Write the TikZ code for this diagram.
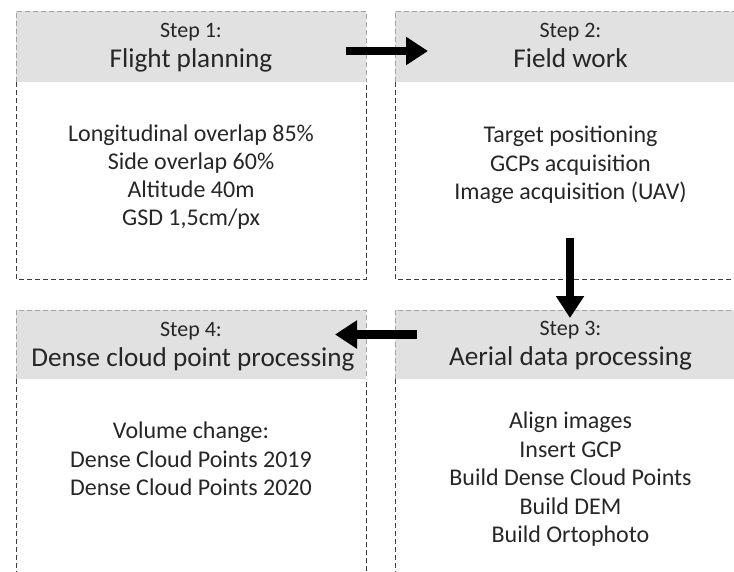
\documentclass[tikz,border=0pt]{standalone}
\usepackage{fontspec}
\setmainfont{Carlito}
\usetikzlibrary{arrows.meta}
\definecolor{hdr}{RGB}{225,225,225}
\definecolor{txt}{RGB}{38,38,38}
\definecolor{bd}{RGB}{60,60,60}
\definecolor{bdl}{RGB}{165,165,165}
\begin{document}
\begin{tikzpicture}[x=1pt,y=-1pt,
  dashline/.style={draw=bd,line width=0.9pt,dash pattern=on 5pt off 3pt},
  dashlight/.style={draw=bdl,line width=0.9pt,dash pattern=on 5pt off 3pt},
  steplbl/.style={font=\fontsize{22}{24}\selectfont,text=txt,anchor=base,inner sep=0pt},
  titlelbl/.style={font=\fontsize{27.2}{30}\selectfont,text=txt,anchor=base,inner sep=0pt},
  bodylbl/.style={font=\fontsize{24}{28}\selectfont,text=txt,anchor=base,inner sep=0pt},
  bigarrow/.style={line width=8.5pt,-{Triangle[width=27pt,length=22pt]},black}
]
\useasboundingbox (0,0) rectangle (734,571);
\clip (0,0) rectangle (734,571);

% box corners (named coordinates)
\coordinate (b1tl) at (16,11);   \coordinate (b1hr) at (366,82);  \coordinate (b1br) at (366,279);
\coordinate (b2tl) at (395,11);  \coordinate (b2hr) at (746,82);  \coordinate (b2br) at (746,279);
\coordinate (b4tl) at (16,310);  \coordinate (b4hr) at (366,379); \coordinate (b4br) at (366,600);
\coordinate (b3tl) at (395,310); \coordinate (b3hr) at (746,379); \coordinate (b3br) at (746,600);

\foreach \b in {b1,b2,b3,b4}{
  \fill[hdr] (\b tl) rectangle (\b hr);
  \draw[dashlight] (\b tl |- \b hr) -- (\b tl) -- (\b tl -| \b hr) -- (\b hr);
  \draw[dashline] (\b tl |- \b hr) -- (\b tl |- \b br) -- (\b br) -- (\b hr);
}

% Step 1
\node[steplbl] (s1) at (191,37.3) {Step 1:};
\node[titlelbl] (t1) at (191,67.5) {Flight planning};
\node[bodylbl] (l11) at (191,141) {Longitudinal overlap 85\%};
\node[bodylbl] (l12) at (191,169.2) {Side overlap 60\%};
\node[bodylbl] (l13) at (191,197.4) {Altitude 40m};
\node[bodylbl] (l14) at (191,225.6) {GSD 1,5cm/px};

% Step 2
\node[steplbl] (s2) at (570.5,37.3) {Step 2:};
\node[titlelbl] (t2) at (570.5,67.5) {Field work};
\node[bodylbl] (l21) at (570.5,142.5) {Target positioning};
\node[bodylbl] (l22) at (570.5,171) {GCPs acquisition};
\node[bodylbl] (l23) at (570.5,199.5) {Image acquisition (UAV)};

% Step 3
\node[steplbl] (s3) at (570.5,335.5) {Step 3:};
\node[titlelbl] (t3) at (570.5,365.5) {Aerial data processing};
\node[bodylbl] (l31) at (570.5,428.5) {Align images};
\node[bodylbl] (l32) at (570.5,457) {Insert GCP};
\node[bodylbl] (l33) at (570.5,485.5) {Build Dense Cloud Points};
\node[bodylbl] (l34) at (570.5,514) {Build DEM};
\node[bodylbl] (l35) at (570.5,542.5) {Build Ortophoto};

% Step 4
\node[steplbl] (s4) at (191,336.5) {Step 4:};
\node[titlelbl] (t4) at (193,366.5) {Dense cloud point processing};
\node[bodylbl] (l41) at (191,438.5) {Volume change:};
\node[bodylbl] (l42) at (191,467) {Dense Cloud Points 2019};
\node[bodylbl] (l43) at (191,495.5) {Dense Cloud Points 2020};

% arrows
\coordinate (a1s) at (346,51);  \coordinate (a1e) at (428,51);
\coordinate (a2s) at (570,238); \coordinate (a2e) at (570,318);
\coordinate (a3s) at (417,334.5); \coordinate (a3e) at (335,334.5);
\draw[bigarrow] (a1s) -- (a1e);
\draw[bigarrow] (a2s) -- (a2e);
\draw[bigarrow] (a3s) -- (a3e);
\end{tikzpicture}
\end{document}
